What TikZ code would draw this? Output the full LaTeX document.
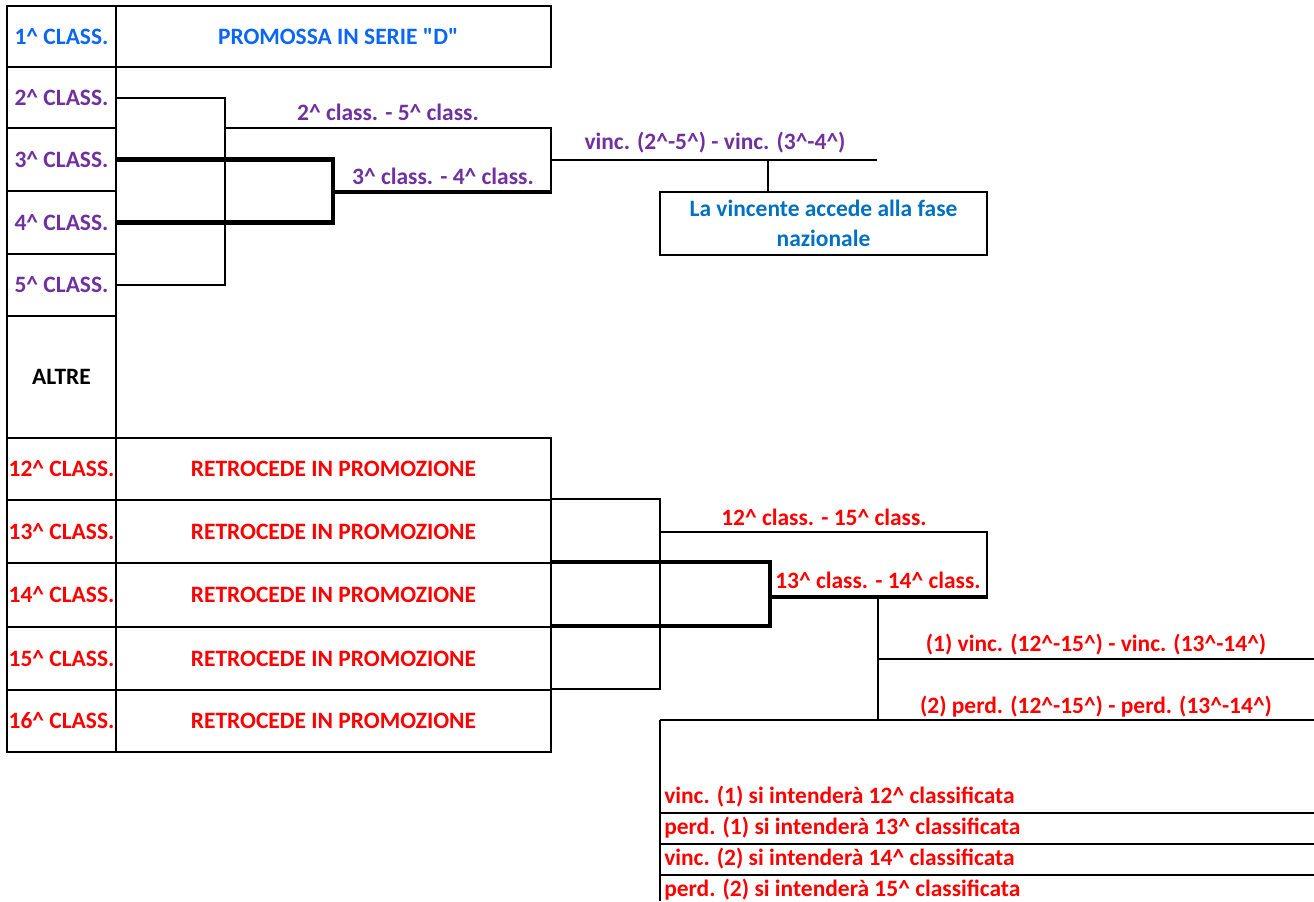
\documentclass[tikz,border=0pt]{standalone}
\usepackage{fontspec}
\setmainfont{Carlito}[Ligatures=TeXOff]
\usetikzlibrary{fit}
\definecolor{cblue}{RGB}{10,102,245}
\definecolor{cpurple}{RGB}{112,48,160}
\definecolor{cred}{RGB}{255,0,0}
\definecolor{cnat}{RGB}{0,112,192}
\tikzset{
  box/.style={draw=black, line width=1.5pt, inner sep=0pt},
  thinl/.style={line width=1.5pt},
  thickl/.style={line width=3.4pt},
  lbl/.style={font=\bfseries\fontsize{17.6}{22.5}\selectfont, inner sep=0pt},
}
\newcommand\cellbox[5]{%
  \path (#2,#3) coordinate (#1-nw) (#4,#5) coordinate (#1-se);
  \node[box, fit=(#1-nw)(#1-se)] (#1) {};}
\begin{document}
\begin{tikzpicture}[x=0.75pt,y=-0.75pt]
\useasboundingbox (0,0) rectangle (1314,901);
% ---- top table ----
\cellbox{c1}{7}{6}{116}{67}
\cellbox{r1}{116}{6}{551}{67}
\cellbox{c2}{7}{67}{116}{128}
\cellbox{c3}{7}{128}{116}{191}
\cellbox{c4}{7}{191}{116}{254}
\cellbox{c5}{7}{254}{116}{316}
\cellbox{c6}{7}{316}{116}{438}
\node[lbl, text=cblue] (t1) at (c1) {1\textasciicircum{} CLASS.};
\node[lbl, text=cblue] (p1) at ([xshift=3.5pt]r1.center) {PROMOSSA IN SERIE "D"};
\node[lbl, text=cpurple] (t2) at (c2) {2\textasciicircum{} CLASS.};
\node[lbl, text=cpurple] (t3) at (c3) {3\textasciicircum{} CLASS.};
\node[lbl, text=cpurple] (t4) at (c4) {4\textasciicircum{} CLASS.};
\node[lbl, text=cpurple] (t5) at (c5) {5\textasciicircum{} CLASS.};
\node[lbl, text=black] (t6) at (c6) {ALTRE};
% ---- top bracket ----
\coordinate (m25) at (225,128);
\coordinate (m34) at (333,192);
\coordinate (f1) at (551,128);
\coordinate (f2) at (551,192);
\coordinate (fm) at (551,160);
\coordinate (fe) at (877,160);
\coordinate (fd) at (768,160);
\draw[thinl] (c2.east) -| (m25) |- (c5.east);
\draw[thinl] (m25) -- (f1) -- (f2);
\draw[thickl] (c3.east) -| (m34) |- (c4.east);
\draw[thickl] (m34) -- ([xshift=0.6pt]f2);
\draw[thinl] (fm) -- (fe);
\cellbox{nat}{660}{192}{987}{255}
\draw[thinl] (fd) -- (fd |- nat.north);
\node[lbl, text=cpurple] (s25) at (388,112) {2\textasciicircum{} class. - 5\textasciicircum{} class.};
\node[lbl, text=cpurple] (s34) at (443,176) {3\textasciicircum{} class. - 4\textasciicircum{} class.};
\node[lbl, text=cpurple] (fin) at (715,143) {vinc. (2\textasciicircum-5\textasciicircum) - vinc. (3\textasciicircum-4\textasciicircum)};
\node[lbl, text=cnat, align=center] (natt) at (nat) {La vincente accede alla fase\\nazionale};
% ---- bottom table ----
\foreach \n/\a/\b in {12/438/500,13/500/563,14/563/627,15/627/690,16/690/752}{
  \cellbox{c\n}{7}{\a}{116}{\b}
  \cellbox{r\n}{116}{\a}{551}{\b}
  \node[lbl, text=cred] (t\n) at (c\n) {\n\textasciicircum{} CLASS.};
  \node[lbl, text=cred] (p\n) at (r\n) {RETROCEDE IN PROMOZIONE};
}
% ---- bottom bracket ----
\coordinate (j1215) at (660,532);
\coordinate (j1314) at (770,597);
\coordinate (k1) at (987,532);
\coordinate (k2) at (987,597);
\coordinate (v1) at (878,597);
\coordinate (v2) at (878,720);
\coordinate (w1) at (878,659);
\coordinate (w1e) at (1314,659);
\coordinate (w2) at (660,720);
\coordinate (w2e) at (1314,720);
\coordinate (bb) at (660,901);
\draw[thinl] (r13.north east) -| (j1215) |- (r16.north east);
\draw[thickl] (r14.north east) -| (j1314) |- (r15.north east);
\draw[thinl] (j1215) -- (k1) -- (k2);
\draw[thickl] (j1314) -- ([xshift=0.6pt]k2);
\draw[thinl] (v1) -- (v2);
\draw[thinl] (w1) -- (w1e);
\draw[thinl] (w2) -- (w2e);
\draw[thinl] (w2) -- (bb);
\foreach \y in {813,844,875}{\draw[thinl] (660,\y) coordinate (l\y) -- (1314,\y);}
\node[lbl, text=cred] (s1215) at (824,517) {12\textasciicircum{} class. - 15\textasciicircum{} class.};
\node[lbl, text=cred] (s1314) at (878,580) {13\textasciicircum{} class. - 14\textasciicircum{} class.};
\node[lbl, text=cred] (q1) at (1096,645) {(1) vinc. (12\textasciicircum-15\textasciicircum) - vinc. (13\textasciicircum-14\textasciicircum)};
\node[lbl, text=cred] (q2) at (1096,707) {(2) perd. (12\textasciicircum-15\textasciicircum) - perd. (13\textasciicircum-14\textasciicircum)};
\node[lbl, text=cred, anchor=west] (n1) at (664,797) {vinc. (1) si intenderà 12\textasciicircum{} classificata};
\node[lbl, text=cred, anchor=west] (n2) at (664,828) {perd. (1) si intenderà 13\textasciicircum{} classificata};
\node[lbl, text=cred, anchor=west] (n3) at (664,859) {vinc. (2) si intenderà 14\textasciicircum{} classificata};
\node[lbl, text=cred, anchor=west] (n4) at (664,890) {perd. (2) si intenderà 15\textasciicircum{} classificata};
\end{tikzpicture}
\end{document}
